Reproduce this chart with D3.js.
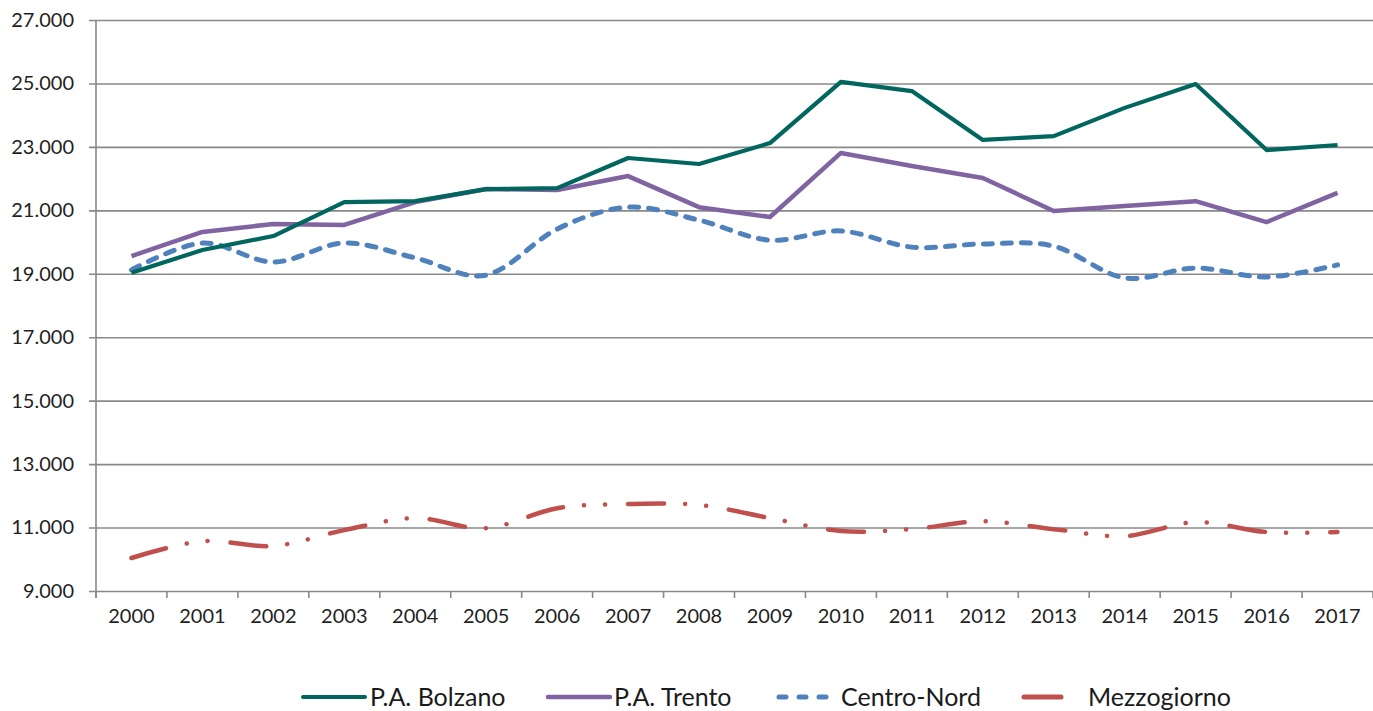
<!DOCTYPE html>
<html><head><meta charset="utf-8">
<script src="https://cdn.jsdelivr.net/npm/d3@7/dist/d3.min.js"></script>
<style>html,body{margin:0;padding:0;background:#fff;} svg{display:block;}</style>
</head><body>
<svg id="chart" width="1373" height="711"></svg>
<script>
const years = ["2000","2001","2002","2003","2004","2005","2006","2007","2008","2009","2010","2011","2012","2013","2014","2015","2016","2017"];
const bolzano = [19030,19750,20190,21260,21290,21670,21700,22650,22460,23120,25050,24760,23220,23340,24230,24980,22900,23060];
const trento = [19560,20320,20570,20540,21260,21670,21640,22080,21100,20790,22810,22400,22020,20980,21140,21290,20630,21550];
const centroNord = [19120,19970,19370,19970,19500,18960,20410,21100,20690,20060,20350,19840,19940,19870,18870,19180,18900,19280];
const mezzogiorno = [10040,10570,10420,10920,11300,10980,11610,11740,11710,11300,10890,10950,11200,10950,10730,11170,10860,10860];
const yTicks = [9000,11000,13000,15000,17000,19000,21000,23000,25000,27000];
const seriesNames = ["P.A. Bolzano","P.A. Trento","Centro-Nord","Mezzogiorno"];

const svg = d3.select("#chart");
const m = {left:96, right:1373, top:20, bottom:591};
const font = "Lato, 'Open Sans', sans-serif";
const grid = "#898989";

const x = d3.scaleBand().domain(years).range([m.left, m.right]);
const y = d3.scaleLinear().domain([9000,27000]).range([m.bottom, m.top]);
const fmt = d => d3.format(",")(d).replace(/,/g,".");

// gridlines + y axis
const yAxis = d3.axisLeft(y).tickValues(yTicks).tickSize(-(m.right-m.left)).tickSizeOuter(0).tickFormat(fmt).tickPadding(22);
const gy = svg.append("g").attr("transform",`translate(${m.left},0)`).call(yAxis);
gy.select(".domain").remove();
gy.selectAll(".tick line").attr("stroke",grid).attr("stroke-width",1.6).attr("x1",-7);
gy.selectAll(".tick text").attr("font-family",font).attr("font-size",20).attr("fill","#1f1f1f");

// x axis
const xAxis = d3.axisBottom(x).tickSize(0).tickPadding(18);
const gx = svg.append("g").attr("transform",`translate(0,${m.bottom})`).call(xAxis);
gx.select(".domain").remove();
gx.selectAll(".tick text").attr("font-family",font).attr("font-size",20).attr("fill","#1f1f1f");
// band boundary ticks
const bounds = years.map(d => x(d)).concat([m.right]);
svg.append("g").selectAll("line").data(bounds).join("line")
  .attr("x1",d=>d).attr("x2",d=>d).attr("y1",m.bottom).attr("y2",m.bottom+7)
  .attr("stroke",grid).attr("stroke-width",1.6);
// y axis line
svg.append("line").attr("x1",m.left).attr("x2",m.left).attr("y1",m.top).attr("y2",m.bottom+7)
  .attr("stroke",grid).attr("stroke-width",1.6);

const cx = (d,i) => x(years[i]) + x.bandwidth()/2;
const straight = d3.line().x(cx).y(d=>y(d));
const smooth = d3.line().x(cx).y(d=>y(d)).curve(d3.curveCardinal.tension(0));

const series = [
  {data:mezzogiorno, color:"#C0504D", w:4.5, dash:"36,21,0.1,21,0.1,23", gen:smooth},
  {data:centroNord, color:"#4F81BD", w:5, dash:"9,10", gen:smooth},
  {data:trento, color:"#8064A2", w:4.5, dash:null, gen:straight},
  {data:bolzano, color:"#00665E", w:4.2, dash:null, gen:straight}
];
series.forEach(s => {
  svg.append("path").attr("d",s.gen(s.data)).attr("fill","none")
    .attr("stroke",s.color).attr("stroke-width",s.w)
    .attr("stroke-linecap", s.dash ? "round" : "butt")
    .attr("stroke-linejoin","round")
    .attr("stroke-dasharray", s.dash);
});

// legend
const legend = [
  {name:seriesNames[0], color:"#00665E", x1:303, x2:365, tx:370, dash:null, w:4},
  {name:seriesNames[1], color:"#8064A2", x1:548, x2:610, tx:614, dash:null, w:4.5},
  {name:seriesNames[2], color:"#4F81BD", x1:779, x2:834, tx:841, dash:"7,13", w:5},
  {name:seriesNames[3], color:"#C0504D", x1:1024, x2:1061, tx:1088, dash:null, w:5}
];
const ly = 697;
legend.forEach(l => {
  svg.append("line").attr("x1",l.x1).attr("x2",l.x2).attr("y1",ly).attr("y2",ly)
    .attr("stroke",l.color).attr("stroke-width",l.w).attr("stroke-linecap","round")
    .attr("stroke-dasharray",l.dash);
  svg.append("text").attr("x",l.tx).attr("y",ly).attr("dy","0.35em")
    .attr("font-family",font).attr("font-size",25).attr("fill","#1a1a1a").text(l.name);
});
</script>
</body></html>
